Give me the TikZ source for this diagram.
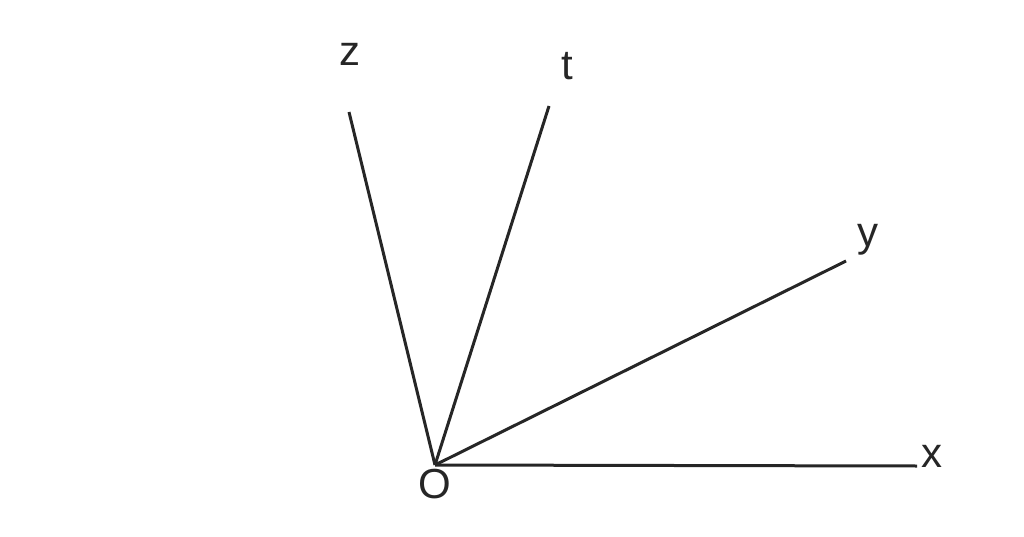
\documentclass[tikz,border=0pt]{standalone}
\usepackage{fontspec}
\setmainfont{Liberation Sans}
\begin{document}
\begin{tikzpicture}[x=1pt,y=-1pt,
  ray/.style={line width=3pt,draw=black!85},
  lab/.style={font=\fontsize{42}{48}\selectfont,text=black!85,inner sep=0pt}]
\useasboundingbox (0,0) rectangle (1024,537);
\coordinate (o) at (435,465);
\coordinate (xe) at (917,466);
\coordinate (ye) at (846,261);
\coordinate (te) at (549,106);
\coordinate (ze) at (349,112);
\draw[ray] (o) -- (xe);
\draw[ray] (o) -- (ye);
\draw[ray] (o) -- (te);
\draw[ray] (o) -- (ze);
\node[lab] (O) at (435,484) {O};
\node[lab] (x) at (932,456) {x};
\node[lab] (y) at (868,240) {y};
\node[lab] (t) at (567,66) {t};
\node[lab] (z) at (350,54) {z};
\end{tikzpicture}
\end{document}
